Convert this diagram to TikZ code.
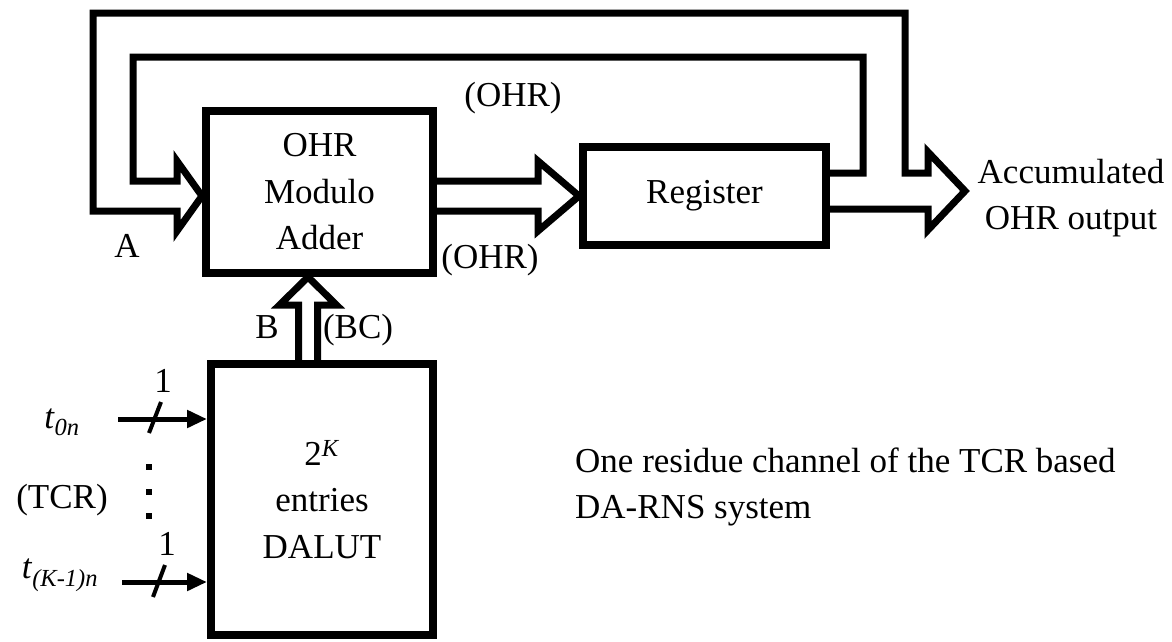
\documentclass[tikz,border=0pt]{standalone}
\usepackage{fontspec}
\setmainfont{Liberation Serif}
\usetikzlibrary{arrows.meta,calc}

\begin{document}
\begin{tikzpicture}[
    x = 1pt, y = -1pt,
    font = \fontsize{35}{46.5}\selectfont,
    block/.style = {draw, line width = 8pt, align = center, inner sep = 0pt},
    bus/.style = {line width = 7pt, line join = miter},
    sig/.style = {line width = 5pt, -{Triangle[length = 20pt, width = 17pt]}},
    tick/.style = {line width = 4pt},
    lbl/.style = {inner sep = 0pt, anchor = base}]

\useasboundingbox (0,0) rectangle (1172,641);

\node[block, minimum width = 227pt, minimum height = 162pt] (adder) at (319.5,192) {OHR\\Modulo\\Adder};
\node[block, minimum width = 243pt, minimum height = 98pt] (register) at (704.5,196) {Register};
\node[block, minimum width = 222pt, minimum height = 271pt] (dalut) at (322,499.5) {2\textsuperscript{\textit{K}}\\entries\\DALUT};

\coordinate (fbtip) at (adder.west |- register.west);
\coordinate (acctip) at (965,191);
\coordinate (bbus) at (308,0);

% adder to register
\draw[bus] ($(adder.east |- register.west)+(0,-15)$) -- ($(register.west)+(-41,-15)$) -- ++(0,-20) --
	  (register.west) -- ($(register.west)+(-41,35)$) -- ++(0,-20) -- ($(adder.east |- register.west)+(0,15)$);

% register output and feedback to adder
\draw[bus] ($(register.east)+(0,-23)$) -| (863,57) -| ($(fbtip)+(-69,-15)$) --
	  ($(fbtip)+(-25,-15)$) -- ($(fbtip)+(-25,-35)$) -- (fbtip) --
	  ($(fbtip)+(-25,35)$) -- ($(fbtip)+(-25,15)$) -| (93,13) -| ($(acctip)+(-60,-18)$) --
	  ($(acctip)+(-37,-18)$) -- ($(acctip)+(-37,-39)$) -- (acctip) --
	  ($(acctip)+(-37,39)$) -- ($(acctip)+(-37,18)$) -- ($(register.east)+(0,13)$);

% dalut to adder
\draw[bus] ($(bbus |- dalut.north)+(-9.5,0)$) -- ($(bbus |- adder.south)+(-9.5,28)$) -- ++(-19,0) --
	  (bbus |- adder.south) -- ($(bbus |- adder.south)+(28.5,28)$) -- ++(-19,0) --
	  ($(bbus |- dalut.north)+(9.5,0)$);

% inputs
\coordinate (t0in) at (118,419);
\coordinate (tkin) at (122,582);
\draw[sig] (t0in) -- (t0in -| dalut.west);
\draw[sig] (tkin) -- (tkin -| dalut.west);
\draw[tick] ($(t0in)+(31,14)$) -- ++(12,-31);
\draw[tick] ($(tkin)+(31,15)$) -- ++(12,-32);
\foreach \y in {467,492,516}
	\fill (146,\y-3) rectangle +(6,6);

\path (513,106) node[lbl](ohrtop) {(OHR)}
	  (127,257) node[lbl](a) {A}
	  (490,268) node[lbl](ohrbot) {(OHR)}
	  (267,338) node[lbl](b) {B}
	  (358,338) node[lbl](bc) {(BC)}
	  (1071,198) node[lbl, anchor = center, align = center](acc) {Accumulated\\OHR output}
	  (575,487) node[lbl, anchor = west, align = left](note) {One residue channel of the TCR based\\DA-RNS system}
	  (62,428) node[lbl](t0) {\textit{t}\textsubscript{\textit{0n}}}
	  (60,578) node[lbl](tk) {\textit{t}\textsubscript{\textit{(K-1)n}}}
	  (62,508) node[lbl](tcr) {(TCR)}
	  (163,392) node[lbl](one0) {1}
	  (167,555) node[lbl](onek) {1};
\end{tikzpicture}
\end{document}
